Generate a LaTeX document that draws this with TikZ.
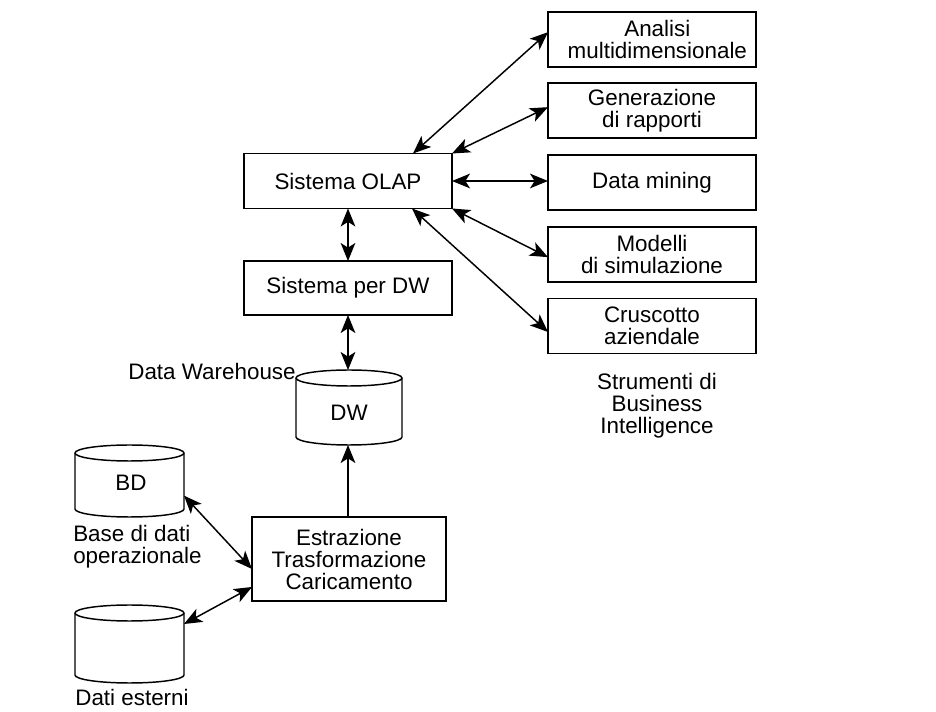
\documentclass[tikz,border=0pt]{standalone}
\usepackage{fontspec}
\setmainfont{Liberation Sans}
\usetikzlibrary{arrows.meta}
\newcommand\mycyl[2]{%
  \draw[cylline] ([yshift=-6pt]#1.north west) -- ([yshift=6pt]#1.south west)
    arc[start angle=180,end angle=360,x radius=#2,y radius=6pt]
    -- ([yshift=-6pt]#1.north east)
    arc[start angle=0,end angle=180,x radius=#2,y radius=6pt] -- cycle;
  \draw[cylline] ([yshift=-6pt]#1.north west)
    arc[start angle=180,end angle=360,x radius=#2,y radius=6pt];}
\begin{document}
\begin{tikzpicture}[x=0.75pt,y=-0.75pt,
  txt/.style={font=\fontsize{16.8}{16.5}\selectfont,inner sep=0pt},
  box/.style={txt,draw,line width=1.1pt,align=center,minimum width=156pt,minimum height=41.25pt,outer sep=0pt},
  cylnode/.style={txt,inner sep=0pt,outer sep=0pt},
  cylline/.style={line width=1.1pt},
  conn/.style={line width=1.1pt},
  dbl/.style={conn,{Stealth[length=13.5pt,width=11pt,inset=3.5pt]}-{Stealth[length=13.5pt,width=11pt,inset=3.5pt]}},
  sgl/.style={conn,-{Stealth[length=13.5pt,width=11pt,inset=3.5pt]}}]
\useasboundingbox[fill=white] (0,0) rectangle (936,712);
% right column
\node[box] (ana) at (652,39.5) {\hspace*{8pt}Analisi\\ \hspace*{8pt}multidimensionale};
\node[box] (gen) at (652,110.5) {Generazione\\di rapporti};
\node[box] (dm) at (652,182.5) {Data mining};
\node[box] (mod) at (652,254.5) {Modelli\\di simulazione};
\node[box] (cru) at (652,326) {Cruscotto\\aziendale};
\node[txt,align=center] (bi) at (657,406) {Strumenti di\\Business\\Intelligence};
% center column
\node[box] (olap) at (348,181) {Sistema OLAP};
\node[box,minimum height=40.5pt] (dwsys) at (348,288) {Sistema per DW};
\node[cylnode,minimum width=79.5pt,minimum height=56.25pt,text depth=0pt] (dw) at (349,407.5) {};
\node[txt] (dwt) at (349,413) {DW};
\mycyl{dw}{39.75pt}
\node[txt] (dwlab) at (212,371) {Data Warehouse};
\node[box,minimum width=145.5pt,minimum height=63pt] (etc) at (349,559) {Estrazione\\Trasformazione\\Caricamento};
% left column
\node[cylnode,minimum width=81.75pt,minimum height=54pt] (bd) at (129.5,481) {};
\node[txt] (bdt) at (131,483) {BD};
\mycyl{bd}{40.875pt}
\node[txt,align=left,anchor=west] (bdlab) at (73,547) {Base di dati\\operazionale};
\node[cylnode,minimum width=81.75pt,minimum height=58.5pt] (de) at (129.5,644) {};
\mycyl{de}{40.875pt}
\node[txt] (delab) at (132,697) {Dati esterni};
% connectors
\draw[dbl] ([xshift=-29.25pt]olap.north east) -- ([yshift=5.5pt]ana.west);
\draw[dbl] (olap.north east) -- ([yshift=2.5pt]gen.west);
\draw[dbl] (olap.east) -- (olap.east -| dm.west);
\draw[dbl] (olap.south east) -- ([yshift=-2pt]mod.west);
\draw[dbl] ([xshift=-30pt]olap.south east) -- ([yshift=-4.5pt]cru.west);
\draw[dbl] (olap.south) -- (dwsys.north);
\draw[dbl] (dwsys.south) -- (dwsys.south |- dw.north);
\draw[sgl] (dwsys.south |- etc.north) -- (dwsys.south |- dw.south);
\draw[dbl] ([yshift=-11pt]bd.east) -- ([yshift=-7.5pt]etc.west);
\draw[dbl] ([yshift=15pt]de.east) -- ([yshift=-21pt]etc.west);
\end{tikzpicture}
\end{document}
